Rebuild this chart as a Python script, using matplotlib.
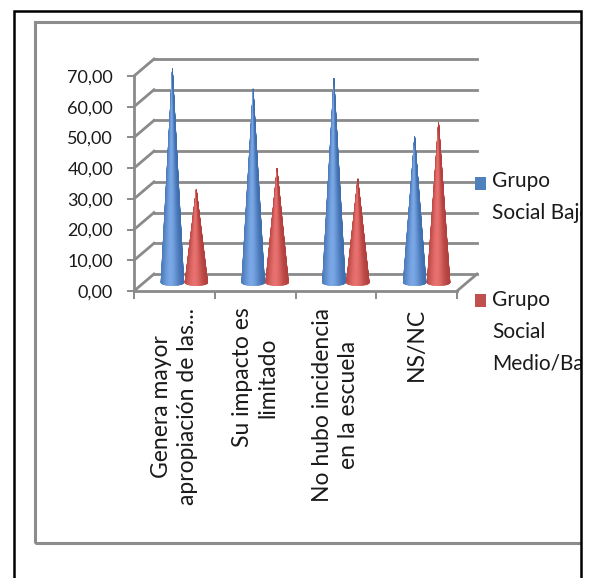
import numpy as np
import matplotlib
matplotlib.use("Agg")
import matplotlib.pyplot as plt
from matplotlib.patches import Polygon, Rectangle
from matplotlib.colors import to_rgb

W, H = 595, 578

categories = ["Genera mayor\napropiación de las...", "Su impacto es\nlimitado",
              "No hubo incidencia\nen la escuela", "NS/NC"]
series_names = ["Grupo\nSocial Bajo", "Grupo\nSocial\nMedio/Bajo"]
grupo_bajo = [69.6, 63.0, 66.3, 47.5]
grupo_medio_bajo = [30.4, 37.0, 33.7, 52.2]
y_ticks = [0, 10, 20, 30, 40, 50, 60, 70]
y_tick_labels = ["0,00", "10,00", "20,00", "30,00", "40,00", "50,00", "60,00", "70,00"]

# oscuro / claro para el sombreado de cada cono
shades = [("#3a69aa", "#7aa8e6"), ("#ad3b39", "#e8716e")]
legend_colors = ["#4f81bd", "#c0504d"]
GRID = "#8a8a8a"

plt.rcParams["font.family"] = ["Lato", "DejaVu Sans"]


def px(x, y):
    # pixeles de la imagen -> fraccion de figura
    return x / W, 1 - y / H


fig = plt.figure(figsize=(W / 100, H / 100), dpi=100)
fig.patch.set_facecolor("white")

x0, y0 = px(134, 291)
x1, y1 = px(457, 76)
ax = fig.add_axes([x0, y0, x1 - x0, y1 - y0])
ax.set_xlim(0, 4)
ax.set_ylim(0, 70)
ax.patch.set_alpha(0)

# unidades de datos por pixel
ux = 4 / ((x1 - x0) * W)
uy = 70 / ((y1 - y0) * H)
back_dx, back_dy = 20 * ux, 17 * uy
mid_dx, mid_dy = 10 * ux, 8.5 * uy

# pared del fondo y pared lateral
for v in y_ticks:
    ax.plot([back_dx, 4 + back_dx], [v + back_dy, v + back_dy], color=GRID,
            lw=2, clip_on=False, zorder=1)
    ax.plot([0, back_dx], [v, v + back_dy], color=GRID, lw=2, clip_on=False, zorder=1)
# borde derecho del piso
ax.plot([4, 4 + back_dx], [0, back_dy], color=GRID, lw=2, clip_on=False, zorder=1)


def cone(xc, h, dark, light, z):
    r = 0.142
    ry = 3.2 * uy
    cx = xc + mid_dx
    by = mid_dy
    dark, light = np.array(to_rgb(dark)), np.array(to_rgb(light))
    t = np.linspace(np.pi, 2 * np.pi, 61)
    for a, b in zip(t[:-1], t[1:]):
        u = np.cos((a + b) / 2)
        k = np.exp(-((u + 0.15) / 0.75) ** 2)
        c = dark + (light - dark) * k
        tri = [(cx, by + h),
               (cx + r * np.cos(a), by + ry * np.sin(a)),
               (cx + r * np.cos(b), by + ry * np.sin(b))]
        ax.add_patch(Polygon(tri, closed=True, facecolor=c, edgecolor=c, lw=0.4,
                             clip_on=False, zorder=z))


offsets = [-0.148, 0.148]
for i in range(len(categories)):
    for s, values in enumerate([grupo_bajo, grupo_medio_bajo]):
        cone(i + 0.5 + offsets[s], values[i], *shades[s], z=3 + s)

for side in ["top", "right"]:
    ax.spines[side].set_visible(False)
for side in ["left", "bottom"]:
    ax.spines[side].set_color(GRID)
    ax.spines[side].set_linewidth(2)
    ax.spines[side].set_zorder(2)

ax.set_yticks(y_ticks)
ax.set_yticklabels(y_tick_labels)
ax.tick_params(axis="y", direction="out", length=5, width=1.4, color=GRID,
               labelsize=13, pad=10, labelcolor="#1a1a1a")

ax.set_xticks(range(5))
ax.set_xticklabels([])
ax.tick_params(axis="x", which="major", direction="out", length=6, width=1.4, color=GRID)
ax.set_xticks([i + 0.5 for i in range(len(categories))], minor=True)
ax.set_xticklabels(categories, minor=True, rotation=90, fontsize=16.5,
                   linespacing=1.3, color="#1a1a1a")
ax.tick_params(axis="x", which="minor", length=0, pad=12)

# leyenda
legend_pos = [(183, 183), (300, 302)]
for (my, ty), name, c in zip(legend_pos, series_names, legend_colors):
    mx, myf = px(475, my + 6.5)
    fig.patches.append(Rectangle((mx, myf), 11 / W, 13 / H, transform=fig.transFigure,
                                 facecolor=c, edgecolor="none", zorder=4))
    tx, tyf = px(492, ty - 12)
    fig.text(tx, tyf, name, fontsize=15, va="top", ha="left", linespacing=1.75,
             color="#1a1a1a", zorder=3)

# marcos
gx, gy = px(35, 543)
fig.patches.append(Rectangle((gx, gy), 1.2 - gx, (543 - 22) / H, transform=fig.transFigure,
                             fill=False, edgecolor="#8c8c8c", lw=2.2, zorder=9))
mx, _ = px(581.5, 0)
fig.patches.append(Rectangle((mx, 0), 1 - mx, 1, transform=fig.transFigure,
                             facecolor="white", edgecolor="none", zorder=10))
bx, by = px(14, 620)
fig.patches.append(Rectangle((bx, by), (580.5 - 14) / W, (620 - 11) / H,
                             transform=fig.transFigure, fill=False, edgecolor="black",
                             lw=1.8, zorder=11))

fig.savefig("out.png", dpi=100, facecolor="white")
